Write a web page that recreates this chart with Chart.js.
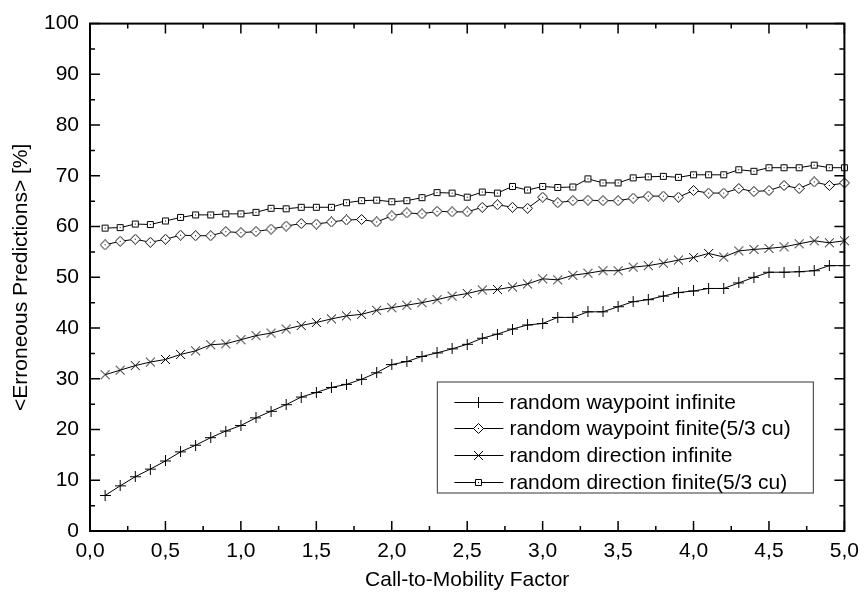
<!DOCTYPE html>
<html>
<head>
<meta charset="utf-8">
<script src="https://cdn.jsdelivr.net/npm/chart.js@4.4.1/dist/chart.umd.min.js"></script>
<style>
  body { margin: 0; background: #fff; }
  #wrap { width: 867px; height: 598px; }
</style>
</head>
<body>
<div id="wrap"><canvas id="chart"></canvas></div>
<script>
const factor = [0.1, 0.2, 0.3, 0.4, 0.5, 0.6, 0.7, 0.8, 0.9, 1.0,
                1.1, 1.2, 1.3, 1.4, 1.5, 1.6, 1.7, 1.8, 1.9, 2.0,
                2.1, 2.2, 2.3, 2.4, 2.5, 2.6, 2.7, 2.8, 2.9, 3.0,
                3.1, 3.2, 3.3, 3.4, 3.5, 3.6, 3.7, 3.8, 3.9, 4.0,
                4.1, 4.2, 4.3, 4.4, 4.5, 4.6, 4.7, 4.8, 4.9, 5.0];

const waypointInfinite = [7.0, 8.9, 10.7, 12.2, 13.8, 15.6, 16.9, 18.4, 19.7, 20.8,
                          22.3, 23.6, 24.9, 26.4, 27.3, 28.3, 28.9, 29.9, 31.2, 32.8,
                          33.4, 34.4, 35.1, 35.9, 36.8, 38.0, 38.8, 39.8, 40.6, 40.9,
                          42.1, 42.1, 43.2, 43.2, 44.2, 45.2, 45.6, 46.3, 47.0, 47.3,
                          47.8, 47.8, 48.9, 50.0, 51.0, 51.0, 51.1, 51.3, 52.3, 52.3];

const waypointFinite = [56.4, 57.1, 57.5, 56.9, 57.5, 58.3, 58.2, 58.2, 59.0, 58.8,
                        59.0, 59.5, 60.1, 60.6, 60.5, 60.9, 61.3, 61.4, 60.9, 62.1,
                        62.7, 62.5, 63.0, 62.9, 62.9, 63.8, 64.3, 63.8, 63.6, 65.8,
                        64.7, 65.1, 65.2, 65.1, 65.1, 65.6, 66.0, 66.0, 65.8, 67.1,
                        66.6, 66.6, 67.5, 66.9, 67.1, 68.1, 67.5, 68.8, 68.1, 68.6];

const directionInfinite = [30.8, 31.7, 32.6, 33.3, 33.8, 34.8, 35.5, 36.7, 36.9, 37.7,
                           38.5, 39.0, 39.8, 40.5, 41.1, 41.8, 42.4, 42.7, 43.5, 44.0,
                           44.5, 45.0, 45.6, 46.3, 46.8, 47.5, 47.6, 48.1, 48.7, 49.7,
                           49.5, 50.4, 50.8, 51.3, 51.3, 52.0, 52.3, 52.8, 53.4, 53.9,
                           54.7, 54.0, 55.2, 55.5, 55.7, 56.0, 56.6, 57.2, 56.8, 57.2];

const directionFinite = [59.7, 59.8, 60.5, 60.4, 61.1, 61.8, 62.3, 62.3, 62.5, 62.5,
                         62.8, 63.6, 63.5, 63.8, 63.8, 63.8, 64.7, 65.1, 65.2, 64.9,
                         65.1, 65.7, 66.7, 66.6, 65.8, 66.8, 66.6, 67.9, 67.2, 67.9,
                         67.7, 67.8, 69.4, 68.6, 68.6, 69.6, 69.8, 69.9, 69.7, 70.2,
                         70.2, 70.2, 71.2, 70.9, 71.6, 71.6, 71.6, 72.1, 71.6, 71.6];

const seriesNames = ["random waypoint infinite", "random waypoint finite(5/3 cu)",
                     "random direction infinite", "random direction finite(5/3 cu)"];

const FONT = {family: "'Liberation Sans', Arial, sans-serif", size: 21};

// small bitmap markers, shared by the lines and the legend
function makeMarker(kind){
    const n = kind === "square" ? 9 : 11;
    const c = document.createElement("canvas");
    c.width = n; c.height = n;
    const g = c.getContext("2d");
    const m = n / 2;
    g.strokeStyle = "#000";
    g.fillStyle = "#fff";
    g.lineWidth = 1;
    g.beginPath();
    switch(kind)
    {
        case "plus":
            g.moveTo(0, m); g.lineTo(n, m);
            g.moveTo(m, 0); g.lineTo(m, n);
            g.stroke();
            break;
        case "cross":
            g.moveTo(1, 1); g.lineTo(n - 1, n - 1);
            g.moveTo(n - 1, 1); g.lineTo(1, n - 1);
            g.stroke();
            break;
        case "diamond":
            g.moveTo(m, 0.5); g.lineTo(n - 0.5, m); g.lineTo(m, n - 0.5); g.lineTo(0.5, m);
            g.closePath(); g.fill(); g.stroke();
            g.fillStyle = "#000"; g.fillRect(m - 0.5, m - 0.5, 1, 1);
            break;
        case "square":
            g.rect(1.5, 1.5, n - 3, n - 3);
            g.fill(); g.stroke();
            g.fillStyle = "#000"; g.fillRect(m - 0.5, m - 0.5, 1, 1);
            break;
    }
    return c;
}

const markers = [makeMarker("plus"), makeMarker("diamond"), makeMarker("cross"), makeMarker("square")];
const seriesData = [waypointInfinite, waypointFinite, directionInfinite, directionFinite];

function toPoints(values){
    return values.map((v, i) => ({x: factor[i], y: v}));
}

// box around the plot with inward major/minor ticks on all four sides
const framePlugin = {
    id: "frame",
    afterDatasetsDraw(chart){
        const {ctx, chartArea: a, scales: {x, y}} = chart;
        ctx.save();
        ctx.strokeStyle = "#000";
        const xs = x.ticks.map(t => t.value);
        const ys = y.ticks.map(t => t.value);
        ctx.lineWidth = 1.5;
        ctx.beginPath();
        for (let i = 0; i < xs.length; i++)
        {
            const px = x.getPixelForValue(xs[i]);
            ctx.moveTo(px, a.bottom); ctx.lineTo(px, a.bottom - 10);
            ctx.moveTo(px, a.top); ctx.lineTo(px, a.top + 10);
            if (i < xs.length - 1)
            {
                const pm = x.getPixelForValue((xs[i] + xs[i + 1]) / 2);
                ctx.moveTo(pm, a.bottom); ctx.lineTo(pm, a.bottom - 5);
                ctx.moveTo(pm, a.top); ctx.lineTo(pm, a.top + 5);
            }
        }
        for (let i = 0; i < ys.length; i++)
        {
            const py = y.getPixelForValue(ys[i]);
            ctx.moveTo(a.left, py); ctx.lineTo(a.left + 10, py);
            ctx.moveTo(a.right, py); ctx.lineTo(a.right - 10, py);
            if (i < ys.length - 1)
            {
                const pm = y.getPixelForValue((ys[i] + ys[i + 1]) / 2);
                ctx.moveTo(a.left, pm); ctx.lineTo(a.left + 5, pm);
                ctx.moveTo(a.right, pm); ctx.lineTo(a.right - 5, pm);
            }
        }
        ctx.stroke();
        ctx.lineWidth = 2;
        ctx.strokeRect(a.left, a.top, a.right - a.left, a.bottom - a.top);
        ctx.restore();
    }
};

// legend box sitting in the lower right corner of the plot
const legendPlugin = {
    id: "boxLegend",
    afterDraw(chart){
        const {ctx, chartArea: a} = chart;
        const w = 376, h = 111;
        const left = a.right - 31 - w;
        const top = a.bottom - 38 - h;
        ctx.save();
        ctx.fillStyle = "#fff";
        ctx.fillRect(left, top, w, h);
        ctx.strokeStyle = "#555";
        ctx.lineWidth = 1.2;
        ctx.strokeRect(left, top, w, h);
        ctx.font = FONT.size + "px " + FONT.family;
        ctx.textBaseline = "middle";
        chart.data.datasets.forEach((ds, i) => {
            const cy = Math.round(top + 19.7 + i * 26.7) + 0.5;
            ctx.strokeStyle = "#000";
            ctx.lineWidth = 1;
            ctx.beginPath();
            ctx.moveTo(left + 17, cy);
            ctx.lineTo(left + 66, cy);
            ctx.stroke();
            const mk = ds.pointStyle;
            ctx.drawImage(mk, Math.round(left + 41.5 - mk.width / 2), Math.round(cy - mk.height / 2));
            ctx.fillStyle = "#000";
            ctx.fillText(ds.label, left + 72, cy + 1);
        });
        ctx.restore();
    }
};

const ctx = document.getElementById("chart").getContext("2d");
const myChart = new Chart(ctx, {
    type: "line",
    data: {
        datasets: seriesNames.map((name, i) => ({
            label: name,
            data: toPoints(seriesData[i]),
            borderColor: "#000",
            borderWidth: 1,
            tension: 0,
            pointStyle: markers[i],
            pointRadius: 5,
            pointHoverRadius: 5,
            clip: 8
        }))
    },
    options: {
        responsive: true,
        maintainAspectRatio: false,
        animation: false,
        events: [],
        layout: { padding: { top: 17, right: 19, left: 0, bottom: 0 } },
        plugins: {
            legend: { display: false },
            tooltip: { enabled: false }
        },
        scales: {
            x: {
                type: "linear",
                min: 0,
                max: 5,
                grid: { display: false, drawTicks: false },
                border: { display: false },
                ticks: {
                    stepSize: 0.5,
                    padding: 8,
                    maxRotation: 0,
                    color: "#000",
                    font: FONT,
                    callback: v => v.toFixed(1).replace(".", ",")
                },
                title: {
                    display: true,
                    text: "Call-to-Mobility Factor",
                    color: "#000",
                    font: FONT,
                    padding: { top: 4, bottom: 5 }
                },
                afterFit: s => { s.height = 67; }
            },
            y: {
                min: 0,
                max: 100,
                grid: { display: false, drawTicks: false },
                border: { display: false },
                ticks: {
                    stepSize: 10,
                    padding: 11,
                    color: "#000",
                    font: FONT
                },
                title: {
                    display: true,
                    text: "<Erroneous Predictions> [%]",
                    color: "#000",
                    font: FONT,
                    padding: { top: 9, bottom: 0 }
                },
                afterFit: s => { s.width = 90; }
            }
        }
    },
    plugins: [framePlugin, legendPlugin]
});
</script>
</body>
</html>
